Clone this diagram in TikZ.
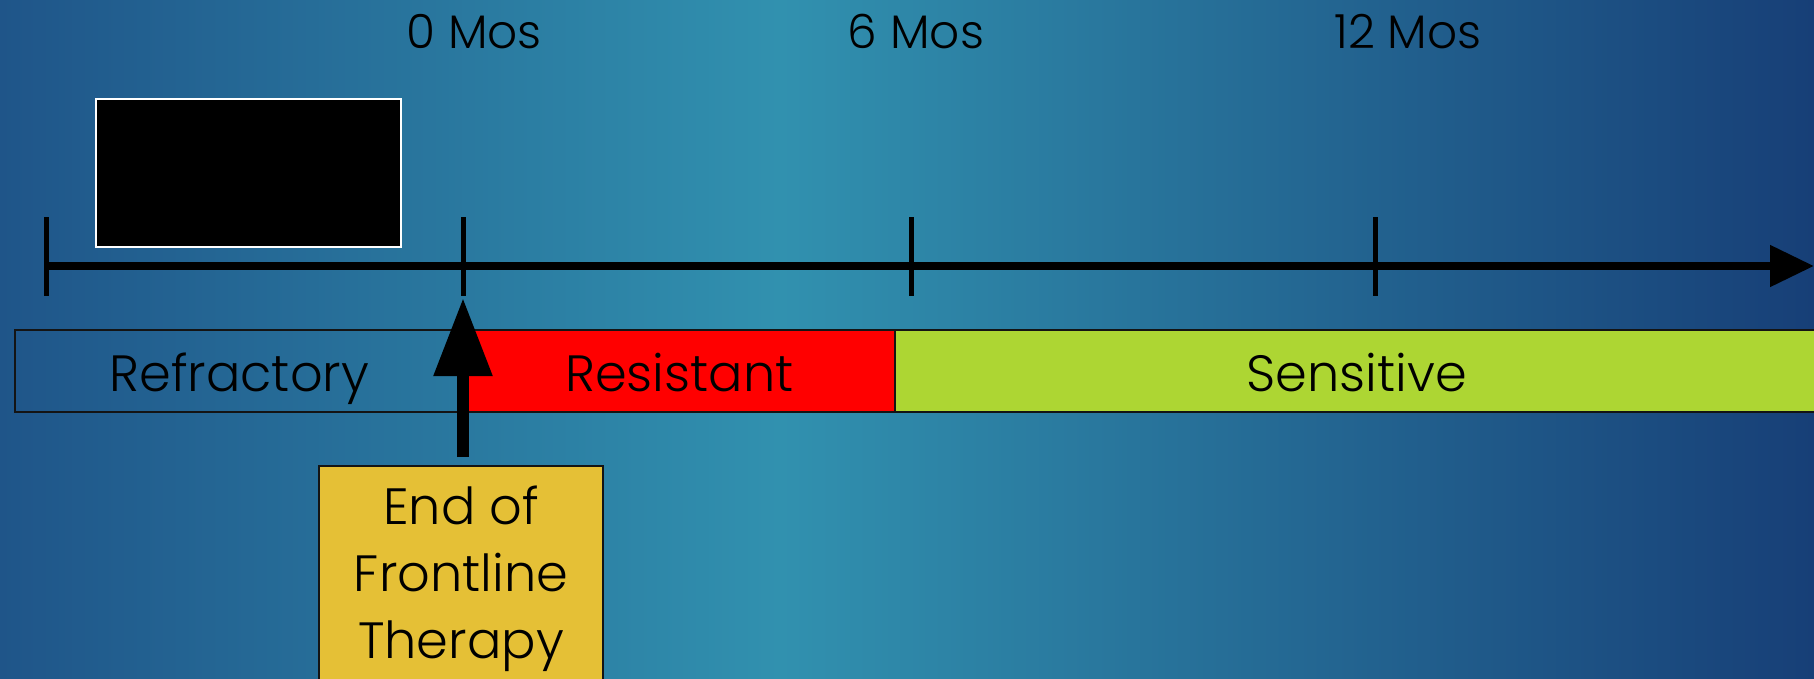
\documentclass[tikz,border=0pt]{standalone}
\usepackage{fontspec}
\setmainfont{Poppins}[UprightFont=* Light]
\usetikzlibrary{arrows.meta}
\definecolor{bgleft}{HTML}{1F5589}
\definecolor{bglight}{HTML}{3191AF}
\definecolor{bgright}{HTML}{173F77}
\definecolor{resred}{HTML}{FF0000}
\definecolor{sensgreen}{HTML}{ADD633}
\definecolor{endyellow}{HTML}{E5C036}
\definecolor{edge}{HTML}{141414}
\begin{document}
\begin{tikzpicture}[x=1pt,y=-1pt,
  lbl/.style={font=\fontsize{47}{56}\selectfont, text=black},
  bar/.style={draw=edge, line width=1.5pt, anchor=north west, minimum height=82pt, inner sep=0pt, text height=41pt, text depth=0pt, font=\fontsize{51}{60}\selectfont},
  tick/.style={line width=5pt, black},
  axisline/.style={line width=8pt, black, -{Triangle[length=44pt,width=40pt]}},
  uparrow/.style={line width=12pt, black, -{Triangle[length=78pt,width=56pt]}}
]
\useasboundingbox (0,0) rectangle (1814,678);
% background
\shade[left color=bgleft, right color=bglight] (0,0) rectangle (780,678);
\shade[left color=bglight, right color=bgright] (780,0) rectangle (1814,678);

% month labels
\node[lbl] (m0) at (474,32) {0 Mos};
\node[lbl] (m6) at (916,32) {6 Mos};
\node[lbl] (m12) at (1408,32) {12 Mos};

% black box
\node[draw=white, line width=1.5pt, fill=black, minimum width=305pt, minimum height=148pt, anchor=north west, inner sep=0pt] (blk) at (95,98) {};

% axis
\coordinate (axL) at (46,266);
\coordinate (axR) at (1814,266);
\draw[axisline] (axL) -- (axR);
\foreach \x/\n in {46/t0,463/t1,911/t2,1375/t3}{
  \coordinate (\n top) at (\x,217);
  \coordinate (\n bot) at (\x,296);
  \draw[tick] (\n top) -- (\n bot);
}

% bars
\node[bar, minimum width=449pt] (refr) at (14,329) {Refractory};
\node[bar, fill=resred, minimum width=431pt] (resi) at (463,329) {Resistant};
\node[bar, fill=sensgreen, minimum width=924pt] (sens) at (894,329) {Sensitive};

% end of frontline box
\node[draw=edge, line width=1.5pt, fill=endyellow, anchor=north, minimum width=284pt, minimum height=226pt, inner sep=0pt, align=center, font=\fontsize{51}{67}\selectfont] (endf) at (461,465) {End of\\Frontline\\Therapy};

% up arrow
\coordinate (arrTail) at (463,457);
\coordinate (arrTip) at (463,298);
\draw[uparrow] (arrTail) -- (arrTip);
\end{tikzpicture}
\end{document}
